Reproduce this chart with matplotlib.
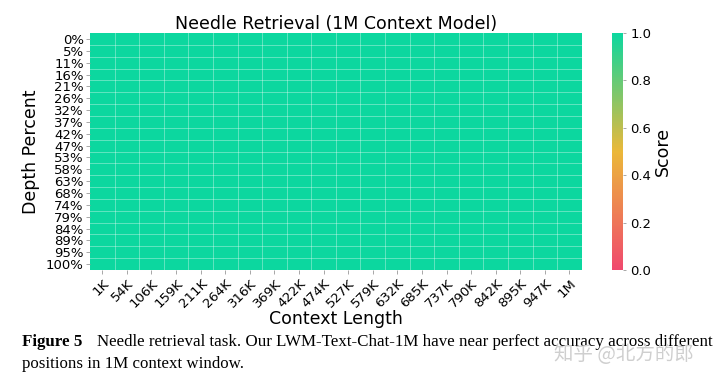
import matplotlib
matplotlib.use("Agg")
import matplotlib.pyplot as plt
from matplotlib.colors import LinearSegmentedColormap
import numpy as np

context_labels = ["1K", "54K", "106K", "159K", "211K", "264K", "316K", "369K", "422K", "474K",
                  "527K", "579K", "632K", "685K", "737K", "790K", "842K", "895K", "947K", "1M"]
depth_labels = ["0%", "5%", "11%", "16%", "21%", "26%", "32%", "37%", "42%", "47%",
                "53%", "58%", "63%", "68%", "74%", "79%", "84%", "89%", "95%", "100%"]

# score per (depth, context) cell, all retrievals correct
scores = [
    [1, 1, 1, 1, 1, 1, 1, 1, 1, 1, 1, 1, 1, 1, 1, 1, 1, 1, 1, 1],
    [1, 1, 1, 1, 1, 1, 1, 1, 1, 1, 1, 1, 1, 1, 1, 1, 1, 1, 1, 1],
    [1, 1, 1, 1, 1, 1, 1, 1, 1, 1, 1, 1, 1, 1, 1, 1, 1, 1, 1, 1],
    [1, 1, 1, 1, 1, 1, 1, 1, 1, 1, 1, 1, 1, 1, 1, 1, 1, 1, 1, 1],
    [1, 1, 1, 1, 1, 1, 1, 1, 1, 1, 1, 1, 1, 1, 1, 1, 1, 1, 1, 1],
    [1, 1, 1, 1, 1, 1, 1, 1, 1, 1, 1, 1, 1, 1, 1, 1, 1, 1, 1, 1],
    [1, 1, 1, 1, 1, 1, 1, 1, 1, 1, 1, 1, 1, 1, 1, 1, 1, 1, 1, 1],
    [1, 1, 1, 1, 1, 1, 1, 1, 1, 1, 1, 1, 1, 1, 1, 1, 1, 1, 1, 1],
    [1, 1, 1, 1, 1, 1, 1, 1, 1, 1, 1, 1, 1, 1, 1, 1, 1, 1, 1, 1],
    [1, 1, 1, 1, 1, 1, 1, 1, 1, 1, 1, 1, 1, 1, 1, 1, 1, 1, 1, 1],
    [1, 1, 1, 1, 1, 1, 1, 1, 1, 1, 1, 1, 1, 1, 1, 1, 1, 1, 1, 1],
    [1, 1, 1, 1, 1, 1, 1, 1, 1, 1, 1, 1, 1, 1, 1, 1, 1, 1, 1, 1],
    [1, 1, 1, 1, 1, 1, 1, 1, 1, 1, 1, 1, 1, 1, 1, 1, 1, 1, 1, 1],
    [1, 1, 1, 1, 1, 1, 1, 1, 1, 1, 1, 1, 1, 1, 1, 1, 1, 1, 1, 1],
    [1, 1, 1, 1, 1, 1, 1, 1, 1, 1, 1, 1, 1, 1, 1, 1, 1, 1, 1, 1],
    [1, 1, 1, 1, 1, 1, 1, 1, 1, 1, 1, 1, 1, 1, 1, 1, 1, 1, 1, 1],
    [1, 1, 1, 1, 1, 1, 1, 1, 1, 1, 1, 1, 1, 1, 1, 1, 1, 1, 1, 1],
    [1, 1, 1, 1, 1, 1, 1, 1, 1, 1, 1, 1, 1, 1, 1, 1, 1, 1, 1, 1],
    [1, 1, 1, 1, 1, 1, 1, 1, 1, 1, 1, 1, 1, 1, 1, 1, 1, 1, 1, 1],
    [1, 1, 1, 1, 1, 1, 1, 1, 1, 1, 1, 1, 1, 1, 1, 1, 1, 1, 1, 1],
]

cmap = LinearSegmentedColormap.from_list("needle", ["#F0496E", "#EBB839", "#0CD79F"])

fig = plt.figure(figsize=(7.2, 3.89), dpi=100)
ax = fig.add_axes([0.125, 0.306, 0.683, 0.609])
cax = fig.add_axes([0.85, 0.306, 0.015, 0.609])

mesh = ax.pcolormesh(np.array(scores, dtype=float), cmap=cmap, vmin=0, vmax=1)
ax.set_xlim(0, len(context_labels))
ax.set_ylim(len(depth_labels), 0)
for s in ax.spines.values():
    s.set_visible(False)

# thin light cell borders
ax.set_xticks(np.arange(1, len(context_labels)), minor=True)
ax.set_yticks(np.arange(1, len(depth_labels)), minor=True)
ax.grid(which="minor", color="white", alpha=0.35, linewidth=0.7)
ax.tick_params(which="minor", length=0)

ax.set_xticks(np.arange(len(context_labels)) + 0.5)
ax.set_xticklabels(context_labels, rotation=45, ha="right", rotation_mode="anchor", fontsize=9.5)
ax.set_yticks(np.arange(len(depth_labels)) + 0.5)
ax.set_yticklabels(depth_labels, fontsize=9.5)
ax.tick_params(axis="both", which="major", length=3, width=0.6, color="#999999", pad=1.5)
ax.tick_params(axis="x", which="major", pad=2)

ax.set_title("Needle Retrieval (1M Context Model)", fontsize=12.5, pad=3)
ax.set_xlabel("Context Length", fontsize=12.5, labelpad=0)
ax.set_ylabel("Depth Percent", fontsize=12.5, labelpad=4)

cb = fig.colorbar(mesh, cax=cax)
cb.outline.set_visible(False)
cb.ax.tick_params(labelsize=9.5, length=2, width=0.6, color="#999999")
cb.set_label("Score", fontsize=12.5, labelpad=2)

# caption below the chart
fig.text(0.03, 0.11, "Figure 5", fontsize=12.2, fontweight="bold", family="Liberation Serif")
fig.text(0.135, 0.11, "Needle retrieval task. Our LWM-Text-Chat-1M have near perfect accuracy across different",
         fontsize=12.2, family="Liberation Serif")
fig.text(0.03, 0.055, "positions in 1M context window.", fontsize=12.2, family="Liberation Serif")
fig.text(0.77, 0.075, "知乎 @北方的郎", fontsize=14, color="#cfcfcf",
         family=["Noto Sans CJK SC", "DejaVu Sans"])

fig.savefig("out.png", dpi=100)
